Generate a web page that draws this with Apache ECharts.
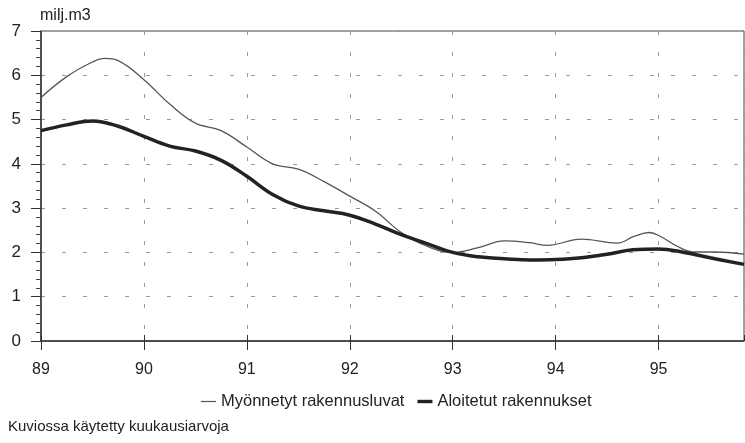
<!DOCTYPE html>
<html>
<head>
<meta charset="utf-8">
<script src="https://cdn.jsdelivr.net/npm/echarts@6/dist/echarts.min.js"></script>
<style>
  html, body { margin: 0; padding: 0; background: #fff; }
  #chart { width: 745px; height: 443px; }
</style>
</head>
<body>
<div id="chart"></div>
<script>
// time in years (89 = 1989), values in milj.m3
const years = [89, 90, 91, 92, 93, 94, 95]
const yTicks = [0, 1, 2, 3, 4, 5, 6, 7]

const tMyon = [89.0, 89.25, 89.5, 89.62, 89.75, 90.0, 90.25, 90.5, 90.75, 91.0, 91.25, 91.5, 91.75,
  92.0, 92.25, 92.5, 92.75, 93.0, 93.25, 93.5, 93.75, 93.92, 94.25, 94.6, 94.76, 94.91, 95.02, 95.18, 95.34, 95.55, 95.83]
const vMyon = [5.50, 5.97, 6.30, 6.38, 6.33, 5.90, 5.35, 4.92, 4.75, 4.38, 4.00, 3.88, 3.60,
  3.27, 2.93, 2.45, 2.14, 2.00, 2.11, 2.26, 2.22, 2.16, 2.30, 2.21, 2.36, 2.45, 2.36, 2.14, 2.01, 2.01, 1.96]

const tAloi = [89.0, 89.25, 89.5, 89.75, 90.0, 90.25, 90.5, 90.75, 91.0, 91.25, 91.5, 91.75,
  92.0, 92.25, 92.5, 92.75, 93.0, 93.25, 93.5, 93.75, 94.0, 94.25, 94.5, 94.75, 95.0, 95.25, 95.5, 95.83]
const vAloi = [4.75, 4.88, 4.97, 4.85, 4.62, 4.40, 4.29, 4.08, 3.72, 3.31, 3.05, 2.94,
  2.84, 2.64, 2.40, 2.20, 2.00, 1.90, 1.86, 1.83, 1.84, 1.88, 1.96, 2.06, 2.08, 2.00, 1.88, 1.73]

const pairs = (ts, vs) => ts.map((t, i) => [t, vs[i]])

const chart = echarts.init(document.getElementById('chart'))
const font = 'Liberation Sans, Arial, sans-serif'
const dash = { color: '#9a9a9a', width: 1, type: [4, 17] }

chart.setOption({
  animation: false,
  textStyle: { fontFamily: font, color: '#222' },
  grid: {
    left: 41, right: 1, top: 31, bottom: 102,
    show: true, borderColor: '#444', borderWidth: 1
  },
  xAxis: [
    {
      type: 'value',
      min: years[0],
      max: 95.83,
      interval: 1,
      axisLine: { lineStyle: { color: '#333', width: 1.5 } },
      axisTick: { length: 9, lineStyle: { color: '#333' } },
      axisLabel: {
        margin: 21, fontSize: 16, color: '#222', showMaxLabel: false,
        formatter: v => (years.includes(v) ? String(v) : '')
      },
      splitLine: { show: true, lineStyle: dash }
    },
    {
      type: 'value',
      position: 'bottom',
      min: years[0],
      max: 95.83,
      interval: 1,
      axisLine: { show: false },
      axisTick: { inside: true, length: 6, lineStyle: { color: '#333' } },
      axisLabel: { show: false },
      splitLine: { show: false }
    }
  ],
  yAxis: {
    type: 'value',
    min: yTicks[0],
    max: yTicks[yTicks.length - 1],
    interval: 1,
    axisLine: { show: true, lineStyle: { color: '#333', width: 1.5 } },
    axisTick: { show: true, length: 10, lineStyle: { color: '#333' } },
    minorTick: { show: true, splitNumber: 5, length: 5, lineStyle: { color: '#444' } },
    axisLabel: { margin: 20, fontSize: 17, color: '#222' },
    splitLine: { show: true, lineStyle: dash }
  },
  legend: {
    left: 196,
    top: 388,
    itemWidth: 15,
    itemHeight: 10,
    itemGap: 13,
    itemStyle: { borderWidth: 0 },
    textStyle: { fontSize: 16.5, color: '#222', fontFamily: font },
    data: [
      { name: 'Myönnetyt rakennusluvat', icon: 'path://M0,0 M15,10 M0,4.4 L15,4.4 L15,5.6 L0,5.6 Z' },
      { name: 'Aloitetut rakennukset', icon: 'path://M0,0 M15,10 M0,3.3 L15,3.3 L15,6.7 L0,6.7 Z' }
    ]
  },
  graphic: [
    {
      type: 'text', left: 40, top: 8,
      style: { text: 'milj.m3', font: '16px ' + font, fill: '#222' }
    },
    {
      type: 'text', left: 8, top: 419,
      style: { text: 'Kuviossa käytetty kuukausiarvoja', font: '15px ' + font, fill: '#222' }
    }
  ],
  series: [
    {
      name: 'Myönnetyt rakennusluvat',
      type: 'line',
      smooth: 0.4,
      symbol: 'none',
      lineStyle: { color: '#555', width: 1.3 },
      itemStyle: { color: '#555' },
      data: pairs(tMyon, vMyon)
    },
    {
      name: 'Aloitetut rakennukset',
      type: 'line',
      smooth: 0.4,
      symbol: 'none',
      lineStyle: { color: '#222', width: 3.5 },
      itemStyle: { color: '#222' },
      data: pairs(tAloi, vAloi)
    }
  ]
})
</script>
</body>
</html>
